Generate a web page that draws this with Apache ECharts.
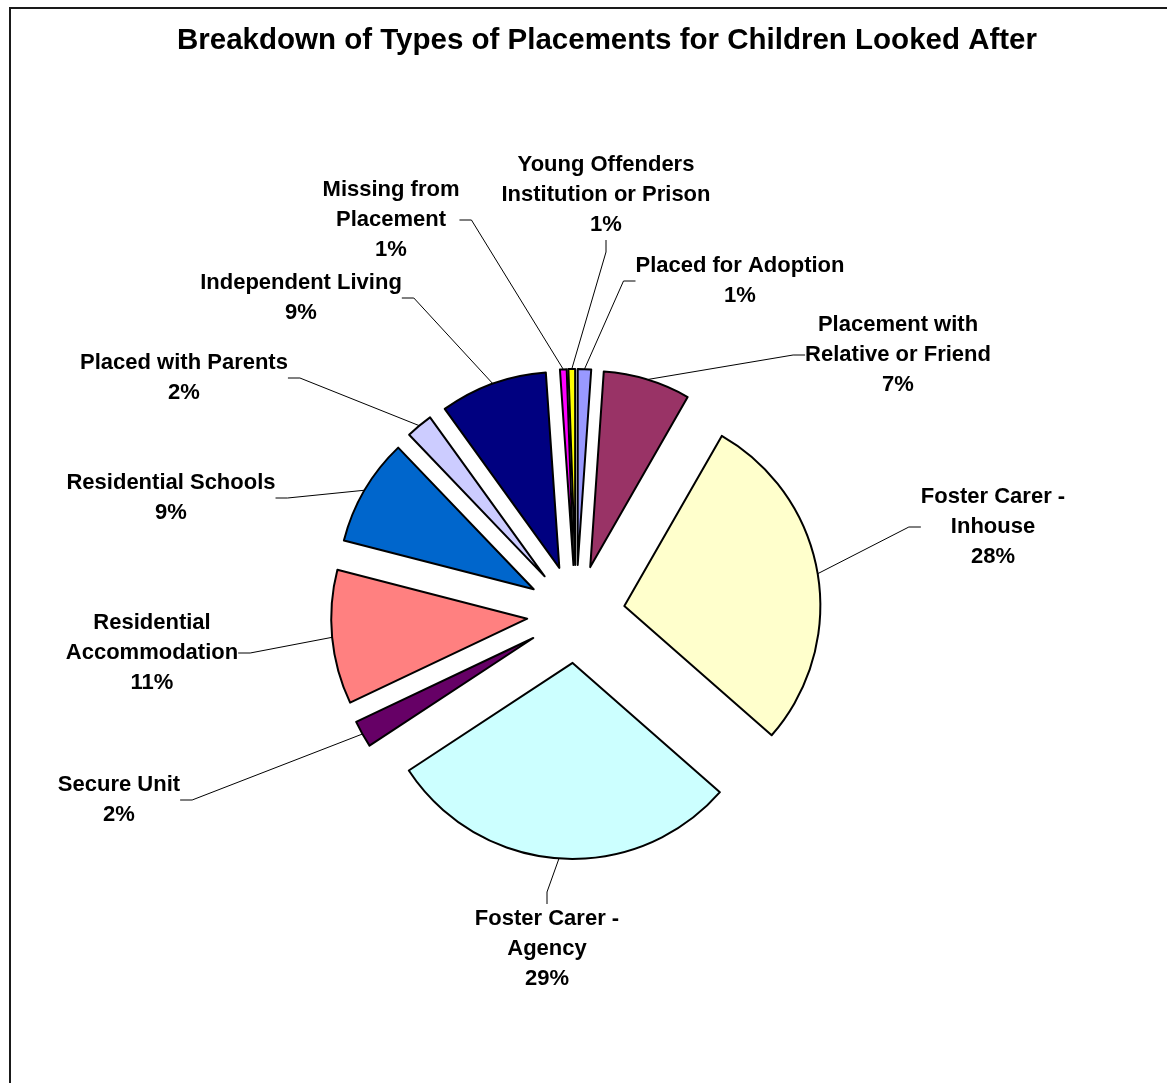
<!DOCTYPE html>
<html>
<head>
<meta charset="utf-8">
<script src="https://cdn.jsdelivr.net/npm/echarts@6/dist/echarts.min.js"></script>
<style>
html,body{margin:0;padding:0;background:#fff;}
#chart{width:1167px;height:1083px;}
</style>
</head>
<body>
<div id="chart"></div>
<script>
// ---- data ----
const titleText = 'Breakdown of Types of Placements for Children Looked After';
const categories = [
  'Placed for Adoption',
  'Placement with\nRelative or Friend',
  'Foster Carer -\nInhouse',
  'Foster Carer -\nAgency',
  'Secure Unit',
  'Residential\nAccommodation',
  'Residential Schools',
  'Placed with Parents',
  'Independent Living',
  'Missing from\nPlacement',
  'Young Offenders\nInstitution or Prison'
];
// share of placements (%); labels show rounded values
const values = [1.10, 7.18, 28.18, 29.28, 2.21, 11.05, 8.84, 2.21, 8.84, 0.55, 0.55];
const colors = ['#9999FF', '#993366', '#FFFFCC', '#CCFFFF', '#660066', '#FF8080',
                '#0066CC', '#CCCCFF', '#000080', '#FF00FF', '#FFFF00'];

// ---- layout ----
const PIE_CENTER = [576, 614];
const PIE_RADIUS = 196;
const EXPLODE = 49;
// label block centres (px)
const labelPos = [
  [740, 281], [898, 355], [993, 527], [547, 949], [119, 800], [152, 653],
  [171, 498], [184, 378], [301, 298], [391, 220], [606, 195]
];

const FONT = '"Liberation Sans", Arial, Helvetica, sans-serif';
const chart = echarts.init(document.getElementById('chart'), null, { renderer: 'canvas' });

// exploded pie: one series per slice, each shifted outward along its mid angle
const total = values.reduce((a, b) => a + b, 0);
let cum = 0;
const series = values.map((v, i) => {
  const mid = (cum + v / 2) / total * 2 * Math.PI;
  cum += v;
  const c = [PIE_CENTER[0] + EXPLODE * Math.sin(mid), PIE_CENTER[1] - EXPLODE * Math.cos(mid)];
  return {
    type: 'pie',
    center: c,
    radius: PIE_RADIUS,
    startAngle: 90,
    clockwise: true,
    avoidLabelOverlap: false,
    silent: true,
    emphasis: { disabled: true },
    data: categories.map((n, j) => j === i ? {
      name: n, value: values[j],
      itemStyle: { color: colors[j], borderColor: '#000', borderWidth: 2 }
    } : {
      name: n, value: values[j],
      itemStyle: { color: 'rgba(0,0,0,0)', borderWidth: 0 },
      label: { show: false }, labelLine: { show: false }
    }),
    label: {
      show: true,
      position: 'outside',
      formatter: p => p.name + '\n' + Math.round(p.percent) + '%',
      color: '#000',
      fontFamily: FONT,
      fontWeight: 'bold',
      fontSize: 22,
      lineHeight: 30
    },
    labelLine: {
      show: true, length: 10, length2: 12, minTurnAngle: 0,
      lineStyle: { color: '#000', width: 1 }
    },
    labelLayout: function (p) {
      const pos = labelPos[p.dataIndex];
      return { x: pos[0], y: pos[1], align: 'center', verticalAlign: 'middle' };
    }
  };
});

chart.setOption({
  animation: false,
  backgroundColor: '#ffffff',
  graphic: [
    {
      type: 'rect', silent: true, z: -10,
      shape: { x: 10, y: 8, width: 1180, height: 1120 },
      style: { fill: 'none', stroke: '#1a1a1a', lineWidth: 2 }
    },
    {
      type: 'text', silent: true,
      x: 607, y: 41,
      style: {
        text: titleText, align: 'center', verticalAlign: 'middle',
        font: 'bold 29.5px ' + FONT, fill: '#000'
      }
    }
  ],
  series: series
});
</script>
</body>
</html>
